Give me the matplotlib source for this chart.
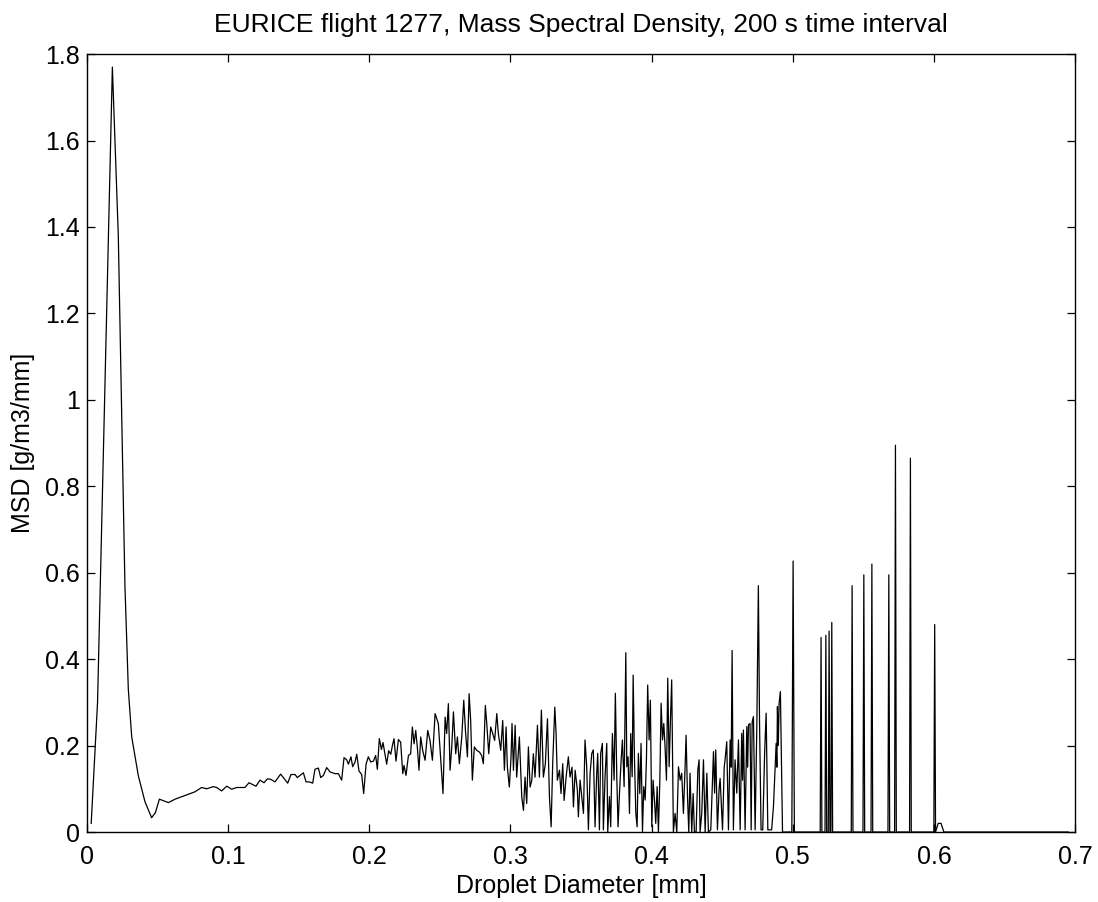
import numpy as np
import matplotlib
matplotlib.use("Agg")
import matplotlib.pyplot as plt

# ---- data (droplet diameter [mm], MSD [g/m3/mm]) ----
# smooth small-droplet part
x_small = [0.003, 0.0075, 0.0125, 0.018, 0.0222, 0.0269, 0.0293, 0.0317, 0.0364, 0.0411,
           0.0458, 0.0485, 0.0513, 0.0577, 0.0624, 0.0765, 0.0812, 0.0848, 0.0895, 0.0919,
           0.0954, 0.0990]
y_small = [0.02, 0.30, 1.00, 1.77, 1.38, 0.57, 0.33, 0.22, 0.13, 0.07,
           0.033, 0.045, 0.076, 0.068, 0.076, 0.093, 0.103, 0.100, 0.105, 0.103,
           0.095, 0.106]

# 0.1 - 0.22 mm
x_mid1 = [0.1025, 0.1060, 0.1119, 0.1148, 0.1197, 0.1226, 0.1254, 0.1278, 0.1301, 0.1332,
          0.1372, 0.1422, 0.1445, 0.1474, 0.1490, 0.1533, 0.1552, 0.1575, 0.1599, 0.1615,
          0.1639, 0.1656, 0.1675, 0.1698, 0.1722, 0.1757, 0.1781, 0.1804, 0.1821, 0.1840,
          0.1852, 0.1870, 0.1882, 0.1899, 0.1911, 0.1927, 0.1946, 0.1960, 0.1977, 0.1993,
          0.2010, 0.2029, 0.2045, 0.2057, 0.2071, 0.2086, 0.2097, 0.2109, 0.2123, 0.2137,
          0.2152, 0.2163, 0.2175, 0.2189, 0.2206]
y_mid1 = [0.099, 0.103, 0.103, 0.114, 0.106, 0.120, 0.114, 0.123, 0.122, 0.116,
          0.134, 0.113, 0.133, 0.133, 0.126, 0.137, 0.116, 0.116, 0.113, 0.145,
          0.148, 0.126, 0.131, 0.149, 0.139, 0.135, 0.135, 0.120, 0.172, 0.167,
          0.157, 0.174, 0.151, 0.162, 0.180, 0.141, 0.133, 0.089, 0.157, 0.174,
          0.162, 0.164, 0.177, 0.145, 0.216, 0.191, 0.207, 0.184, 0.157, 0.188,
          0.180, 0.199, 0.216, 0.164, 0.214]

# 0.22 - 0.35 mm
x_mid2 = [0.2222, 0.2237, 0.2246, 0.2260, 0.2277, 0.2293, 0.2305, 0.2317, 0.2329, 0.2341,
          0.2352, 0.2364, 0.2378, 0.2395, 0.2414, 0.2430, 0.2447, 0.2466, 0.2489, 0.2506,
          0.2522, 0.2537, 0.2548, 0.2560, 0.2572, 0.2584, 0.2596, 0.2612, 0.2624, 0.2638,
          0.2655, 0.2669, 0.2681, 0.2695, 0.2707, 0.2718, 0.2730, 0.2744, 0.2761, 0.2780,
          0.2796, 0.2808, 0.2822, 0.2832, 0.2846, 0.2860, 0.2874, 0.2888, 0.2903, 0.2914,
          0.2931, 0.2945, 0.2957, 0.2969, 0.2978, 0.2992, 0.3004, 0.3011, 0.3021, 0.3033,
          0.3044, 0.3063, 0.3080, 0.3092, 0.3103, 0.3115, 0.3127, 0.3139, 0.3151, 0.3162,
          0.3174, 0.3191, 0.3205, 0.3219, 0.3233, 0.3247, 0.3262, 0.3276, 0.3288, 0.3299,
          0.3314, 0.3323, 0.3332, 0.3347, 0.3358, 0.3370, 0.3380, 0.3394, 0.3410, 0.3422,
          0.3436, 0.3446, 0.3458, 0.3474, 0.3481, 0.3493]
y_mid2 = [0.208, 0.135, 0.154, 0.131, 0.177, 0.181, 0.243, 0.204, 0.235, 0.193,
          0.143, 0.220, 0.189, 0.166, 0.235, 0.212, 0.166, 0.274, 0.251, 0.166,
          0.089, 0.266, 0.228, 0.297, 0.143, 0.197, 0.278, 0.181, 0.220, 0.158,
          0.220, 0.305, 0.235, 0.174, 0.320, 0.258, 0.120, 0.197, 0.189, 0.185,
          0.177, 0.158, 0.293, 0.251, 0.181, 0.243, 0.228, 0.212, 0.274, 0.228,
          0.189, 0.258, 0.143, 0.243, 0.150, 0.104, 0.174, 0.251, 0.143, 0.247,
          0.127, 0.220, 0.081, 0.050, 0.127, 0.066, 0.197, 0.104, 0.120, 0.181,
          0.127, 0.247, 0.127, 0.282, 0.127, 0.158, 0.262, 0.081, 0.012, 0.158,
          0.289, 0.228, 0.120, 0.143, 0.089, 0.158, 0.073, 0.127, 0.174, 0.127,
          0.150, 0.058, 0.143, 0.096, 0.035, 0.120]

# 0.35 - 0.44 mm
x_mid3 = [0.3505, 0.3517, 0.3528, 0.3540, 0.3552, 0.3564, 0.3576, 0.3587, 0.3599, 0.3611,
          0.3618, 0.3630, 0.3639, 0.3651, 0.3658, 0.3670, 0.3682, 0.3689, 0.3701, 0.3710,
          0.3722, 0.3734, 0.3743, 0.3753, 0.3762, 0.3772, 0.3784, 0.3793, 0.3805, 0.3817,
          0.3824, 0.3833, 0.3843, 0.3852, 0.3862, 0.3869, 0.3878, 0.3888, 0.3897, 0.3906,
          0.3916, 0.3925, 0.3935, 0.3944, 0.3954, 0.3963, 0.3972, 0.3982, 0.3991, 0.4001,
          0.4010, 0.4020, 0.4029, 0.4039, 0.4048, 0.4058, 0.4067, 0.4077, 0.4086, 0.4095,
          0.4105, 0.4114, 0.4124, 0.4133, 0.4142, 0.4154, 0.4166, 0.4178, 0.4190, 0.4202,
          0.4213, 0.4225, 0.4237, 0.4244, 0.4254, 0.4263, 0.4272, 0.4284, 0.4294, 0.4303,
          0.4315, 0.4327, 0.4336, 0.4343, 0.4355, 0.4367, 0.4379, 0.4391, 0.4402]
y_mid3 = [0.082, 0.043, 0.213, 0.151, 0.005, 0.136, 0.182, 0.190, 0.012, 0.136,
          0.182, 0.005, 0.182, 0.205, 0.005, 0.128, 0.205, 0.000, 0.082, 0.012,
          0.228, 0.120, 0.321, 0.128, 0.012, 0.089, 0.167, 0.213, 0.105, 0.415,
          0.151, 0.174, 0.043, 0.228, 0.128, 0.363, 0.174, 0.043, 0.012, 0.182,
          0.089, 0.205, 0.000, 0.105, 0.074, 0.167, 0.340, 0.213, 0.305, 0.012,
          0.120, 0.074, 0.020, 0.105, 0.000, 0.120, 0.298, 0.213, 0.251, 0.197,
          0.120, 0.356, 0.151, 0.259, 0.352, 0.000, 0.043, 0.000, 0.151, 0.120,
          0.136, 0.043, 0.151, 0.224, 0.082, 0.000, 0.136, 0.000, 0.089, 0.000,
          0.000, 0.143, 0.167, 0.000, 0.043, 0.167, 0.000, 0.136, 0.000]

# 0.44 - 0.50 mm (sparse spikes)
x_large = [0.4419, 0.4438, 0.4446, 0.4454, 0.4466, 0.4478, 0.4485, 0.4502, 0.4514, 0.4520,
           0.4532, 0.4544, 0.4556, 0.4563, 0.4570, 0.4579, 0.4591, 0.4603, 0.4615, 0.4627,
           0.4638, 0.4644, 0.4650, 0.4662, 0.4674, 0.4680, 0.4686, 0.4697, 0.4705, 0.4712,
           0.4721, 0.4733, 0.4745, 0.4756, 0.4764, 0.4775, 0.4787, 0.4800, 0.4811, 0.4823,
           0.4850, 0.4863, 0.4882, 0.4887, 0.4891, 0.4897, 0.4903, 0.4912, 0.4927, 0.4993,
           0.5002, 0.5011]
y_large = [0.005, 0.186, 0.090, 0.190, 0.005, 0.100, 0.124, 0.005, 0.150, 0.167,
           0.209, 0.005, 0.213, 0.150, 0.420, 0.005, 0.167, 0.090, 0.213, 0.005,
           0.228, 0.120, 0.236, 0.005, 0.244, 0.150, 0.248, 0.251, 0.005, 0.255,
           0.267, 0.005, 0.244, 0.570, 0.259, 0.005, 0.005, 0.180, 0.275, 0.005,
           0.005, 0.060, 0.205, 0.150, 0.290, 0.200, 0.298, 0.325, 0.000, 0.000,
           0.627, 0.000]

# isolated spikes beyond 0.5 mm (centre, height)
spike_x = [0.5200, 0.5234, 0.5257, 0.5276, 0.5420, 0.5503, 0.5560, 0.5680, 0.5727, 0.5833, 0.6005]
spike_y = [0.450, 0.455, 0.465, 0.485, 0.570, 0.595, 0.620, 0.595, 0.895, 0.865, 0.480]

tail_x = [0.6030, 0.6050, 0.6070, 0.6950]
tail_y = [0.020, 0.020, 0.000, 0.000]

# ---- assemble series ----
xs = x_small + x_mid1 + x_mid2 + x_mid3 + x_large
ys = y_small + y_mid1 + y_mid2 + y_mid3 + y_large
hw = 0.0006
for sx, sy in zip(spike_x, spike_y):
    xs += [sx - hw, sx, sx + hw]
    ys += [0.0, sy, 0.0]
xs += tail_x
ys += tail_y

plt.rcParams['font.family'] = ['Liberation Sans', 'DejaVu Sans']
fig = plt.figure(figsize=(10.98, 9.02), dpi=100)
ax = fig.add_axes([0.0792, 0.0776, 0.9, 0.8624])
ax.plot(xs, ys, color='black', linewidth=0.9)

ax.set_xlim(0, 0.7)
ax.set_ylim(0, 1.8)
xt = [0, 0.1, 0.2, 0.3, 0.4, 0.5, 0.6, 0.7]
yt = [0, 0.2, 0.4, 0.6, 0.8, 1.0, 1.2, 1.4, 1.6, 1.8]
ax.set_xticks(xt)
ax.set_xticklabels(['0', '0.1', '0.2', '0.3', '0.4', '0.5', '0.6', '0.7'])
ax.set_yticks(yt)
ax.set_yticklabels(['0', '0.2', '0.4', '0.6', '0.8', '1', '1.2', '1.4', '1.6', '1.8'])
ax.tick_params(direction='in', length=6, width=0.9, top=True, right=True,
               labelsize=18, pad=5)
ax.tick_params(axis='x', pad=9)
for s in ax.spines.values():
    s.set_linewidth(1.0)
ax.set_title('EURICE flight 1277, Mass Spectral Density, 200 s time interval',
             fontsize=19, pad=16)
ax.set_xlabel('Droplet Diameter [mm]', fontsize=18, labelpad=4)
ax.set_ylabel('MSD [g/m3/mm]', fontsize=18, labelpad=7)

fig.savefig('out.png', dpi=100, facecolor='white')
